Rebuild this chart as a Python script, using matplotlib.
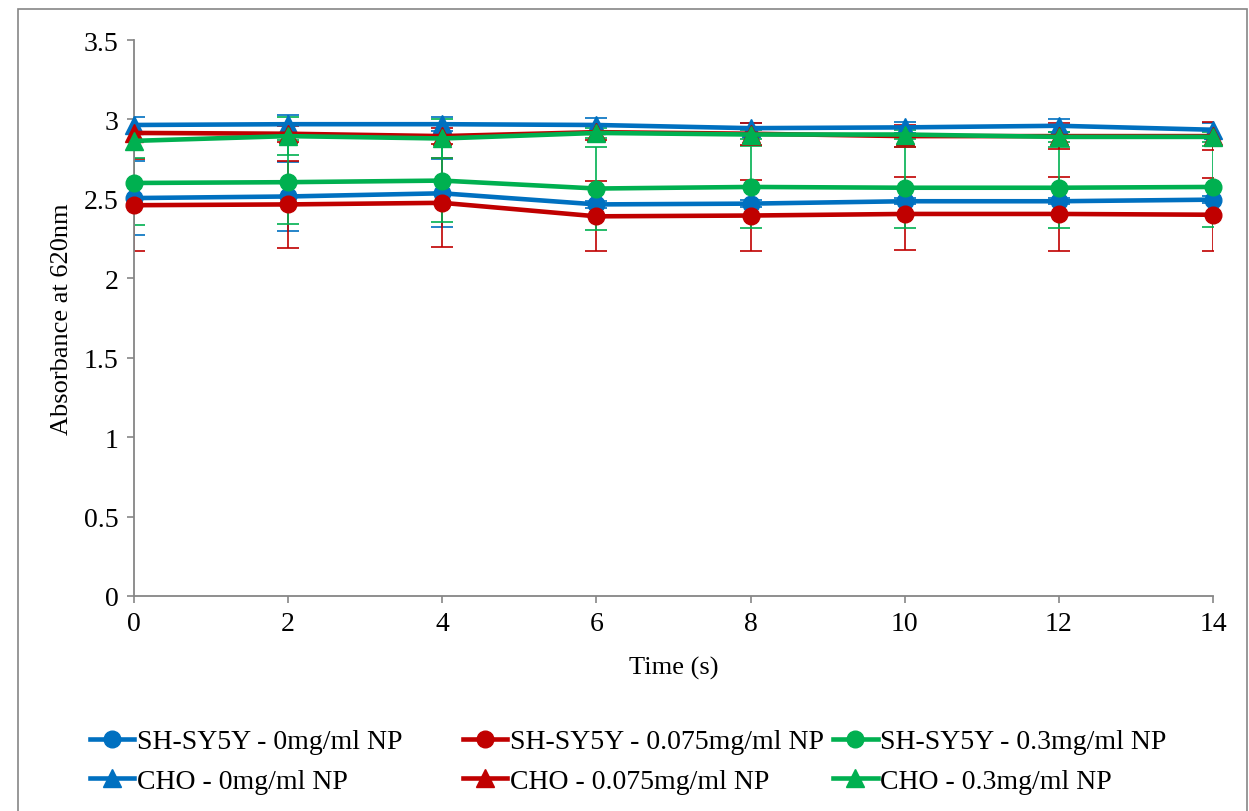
import matplotlib
matplotlib.use('Agg')
import matplotlib.pyplot as plt
from matplotlib.patches import Rectangle

plt.rcParams['font.family'] = ['Liberation Serif', 'DejaVu Serif']

time_s = [0, 2, 4, 6, 8, 10, 12, 14]

labels = ['SH-SY5Y - 0mg/ml NP', 'SH-SY5Y - 0.075mg/ml NP', 'SH-SY5Y - 0.3mg/ml NP',
          'CHO - 0mg/ml NP', 'CHO - 0.075mg/ml NP', 'CHO - 0.3mg/ml NP']

sh_0 = [2.505, 2.515, 2.535, 2.465, 2.47, 2.485, 2.485, 2.495]
sh_0_err = [0.235, 0.22, 0.215, 0.02, 0.02, 0.02, 0.02, 0.02]
sh_075 = [2.46, 2.465, 2.475, 2.39, 2.395, 2.405, 2.405, 2.40]
sh_075_err = [0.29, 0.275, 0.28, 0.22, 0.225, 0.23, 0.235, 0.23]
sh_03 = [2.60, 2.605, 2.615, 2.565, 2.575, 2.57, 2.57, 2.575]
sh_03_err = [0.265, 0.265, 0.26, 0.26, 0.26, 0.255, 0.255, 0.255]

cho_0 = [2.965, 2.97, 2.97, 2.965, 2.945, 2.95, 2.96, 2.935]
cho_0_err = [0.05, 0.055, 0.045, 0.045, 0.03, 0.035, 0.04, 0.04]
cho_075 = [2.915, 2.91, 2.895, 2.92, 2.91, 2.895, 2.895, 2.895]
cho_075_err = [0.05, 0.05, 0.05, 0.05, 0.07, 0.07, 0.08, 0.09]
cho_03 = [2.865, 2.895, 2.88, 2.915, 2.905, 2.905, 2.89, 2.89]
cho_03_err = [0.105, 0.12, 0.12, 0.03, 0.03, 0.03, 0.03, 0.03]

blue = '#0070C0'
red = '#C00000'
green = '#00B050'

fig = plt.figure(figsize=(12.49, 8.12), dpi=100)
ax = fig.add_axes([0.1073, 0.2648, 0.8639, 0.6847])

series = [
    (sh_0, sh_0_err, blue, 'o', labels[0]),
    (sh_075, sh_075_err, red, 'o', labels[1]),
    (sh_03, sh_03_err, green, 'o', labels[2]),
    (cho_0, cho_0_err, blue, '^', labels[3]),
    (cho_075, cho_075_err, red, '^', labels[4]),
    (cho_03, cho_03_err, green, '^', labels[5]),
]

handles = []
for vals, err, col, mk, lab in series:
    ax.errorbar(time_s, vals, yerr=err, fmt='none', ecolor=col, elinewidth=1.2,
                capsize=8, capthick=1.2, zorder=2)
for vals, err, col, mk, lab in series:
    h, = ax.plot(time_s, vals, color=col, lw=3.3, marker=mk,
                 markersize=12 if mk == 'o' else 12.5, label=lab, zorder=3, clip_on=False)
    handles.append(h)

ax.set_xlim(0, 14)
ax.set_ylim(0, 3.5)
ax.set_xticks(time_s)
ax.set_yticks([0, 0.5, 1, 1.5, 2, 2.5, 3, 3.5])
ax.set_yticklabels(['0', '0.5', '1', '1.5', '2', '2.5', '3', '3.5'])

for s in ['top', 'right']:
    ax.spines[s].set_visible(False)
for s in ['left', 'bottom']:
    ax.spines[s].set_color('#868686')
    ax.spines[s].set_linewidth(1.3)
ax.tick_params(axis='both', direction='out', length=5, width=1.2, color='#868686',
               labelsize=20, pad=6)

ax.set_xlabel('Time (s)', fontsize=19, labelpad=14)
ax.set_ylabel('Absorbance at 620nm', fontsize=19, labelpad=8)

# three legend columns at fixed positions, as in the original
col_x = [0.072, 0.3707, 0.667]
for c in range(3):
    leg = fig.legend([handles[c], handles[c + 3]], [labels[c], labels[c + 3]],
                     loc='upper left', bbox_to_anchor=(col_x[c], 0.101), frameon=False,
                     fontsize=20, handlelength=1.6, handletextpad=0.1,
                     labelspacing=0.5, borderpad=0, borderaxespad=0)

fig.patches.append(Rectangle((0.0145, -0.01), 0.984, 0.998, transform=fig.transFigure,
                             fill=False, edgecolor='#868686', lw=1.2))

fig.savefig('out.png', dpi=100)
